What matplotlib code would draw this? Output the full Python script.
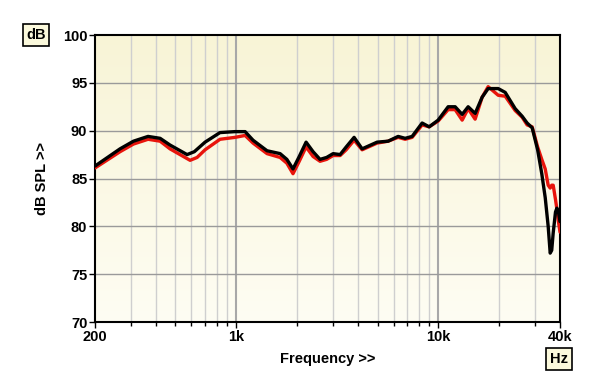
import numpy as np
import matplotlib
matplotlib.use("Agg")
import matplotlib.pyplot as plt
from matplotlib.ticker import FixedLocator, NullFormatter
from matplotlib.colors import LinearSegmentedColormap

plt.rcParams['font.family'] = ['Liberation Sans', 'DejaVu Sans']

freq_black = [200, 266, 310, 366, 420, 470, 571, 620, 701, 831, 986, 1106, 1211,
              1420, 1648, 1780, 1909, 2050, 2216, 2400, 2598, 2800, 3015, 3266,
              3500, 3830, 4196, 4977, 5643, 6325, 6852, 7421, 8315, 9006, 9977,
              11182, 12112, 13120, 14046, 15210, 16475, 17640, 19780, 21425,
              24005, 26000, 27500, 29130, 31000, 32500, 33800, 34960, 35770,
              36400, 37010, 38000, 38610, 39300, 40000]
spl_black = [86.3, 88.1, 88.9, 89.4, 89.2, 88.5, 87.5, 87.8, 88.8, 89.8, 89.9, 89.9, 89.0,
             87.9, 87.6, 87.0, 86.0, 87.3, 88.8, 87.8, 87.0, 87.2, 87.6, 87.5,
             88.3, 89.3, 88.1, 88.8, 88.9, 89.4, 89.2, 89.4, 90.8, 90.4, 91.1,
             92.5, 92.5, 91.7, 92.5, 91.8, 93.5, 94.4, 94.4, 94.0,
             92.3, 91.5, 90.8, 90.3, 88.0, 85.5, 83.0, 80.0, 77.2,
             77.5, 79.3, 81.5, 81.9, 81.5, 80.5]

freq_red = [200, 266, 310, 366, 420, 470, 591, 640, 701, 831, 986, 1106, 1211,
            1420, 1648, 1780, 1909, 2050, 2216, 2400, 2598, 2800, 3015, 3266,
            3500, 3830, 4196, 4977, 5643, 6325, 6852, 7421, 8315, 9006, 9977,
            11182, 12112, 13120, 14046, 15210, 16475, 17640, 19780, 21425,
            24005, 26000, 27500, 29130, 31000, 32500, 33800, 34960, 35770,
            36400, 37010, 38000, 38610, 39300, 40000]
spl_red = [86.1, 87.8, 88.6, 89.1, 88.9, 88.1, 86.9, 87.2, 88.0, 89.1, 89.3, 89.5, 88.7,
           87.6, 87.2, 86.6, 85.5, 86.8, 88.3, 87.3, 86.8, 87.0, 87.4, 87.4,
           88.0, 89.0, 88.0, 88.7, 88.9, 89.3, 89.1, 89.3, 90.6, 90.4, 91.0,
           92.2, 92.2, 91.1, 92.3, 91.2, 93.5, 94.6, 93.7, 93.6,
           92.1, 91.4, 90.6, 90.4, 88.3, 87.0, 86.0, 84.3, 84.0,
           84.3, 84.3, 82.8, 81.8, 80.5, 79.4]

x_major = [200, 1000, 10000, 40000]
x_major_labels = ["200", "1k", "10k", "40k"]
x_minor = [300, 400, 500, 600, 700, 800, 900,
           2000, 3000, 4000, 5000, 6000, 7000, 8000, 9000,
           20000, 30000]
y_ticks = [70, 75, 80, 85, 90, 95, 100]

fig = plt.figure(figsize=(6.0, 3.89), dpi=100)
ax = fig.add_axes([95/600, 67/389, 465/600, 287/389])
ax.set_xscale('log')
ax.set_xlim(200, 40000)
ax.set_ylim(70, 100)

# background gradient
cmap = LinearSegmentedColormap.from_list('bg', ['#fefdf3', '#f8f4d6'])
grad = np.linspace(0, 1, 256).reshape(-1, 1)
ax.imshow(grad, aspect='auto', cmap=cmap, origin='lower',
          extent=[200, 40000, 70, 100], zorder=0)

for f in x_minor:
    ax.axvline(f, color='#cfcfcf', lw=1.0, zorder=1)
for f in [1000, 10000]:
    ax.axvline(f, color='#a8a8a8', lw=1.5, zorder=1)
for y in y_ticks[1:-1]:
    ax.axhline(y, color='#9a9a9a', lw=1.0, zorder=1)

ax.plot(freq_red, spl_red, color='#e8140c', lw=2.4, zorder=3,
        solid_joinstyle='round', solid_capstyle='round')
ax.plot(freq_black, spl_black, color='#000000', lw=2.4, zorder=4,
        solid_joinstyle='round', solid_capstyle='round')

ax.xaxis.set_major_locator(FixedLocator(x_major))
ax.set_xticklabels(x_major_labels)
ax.xaxis.set_minor_locator(FixedLocator(x_minor))
ax.xaxis.set_minor_formatter(NullFormatter())
ax.set_yticks(y_ticks)
ax.set_yticklabels([str(v) for v in y_ticks])

ax.tick_params(axis='both', which='major', direction='out', length=4, width=1,
               labelsize=10.5, pad=1.5)
ax.tick_params(axis='x', which='minor', direction='out', length=3, width=1)
for lab in ax.get_xticklabels() + ax.get_yticklabels():
    lab.set_fontweight('bold')

for s in ax.spines.values():
    s.set_linewidth(1.5)
    s.set_color('black')

ax.set_xlabel('Frequency >>', fontsize=10.5, fontweight='bold', labelpad=6)
ax.set_ylabel('dB SPL >>', fontsize=10.5, fontweight='bold', labelpad=10)

fig.text(36/600, 1 - 35/389, 'dB', fontsize=10.5, fontweight='bold',
         ha='center', va='center',
         bbox=dict(boxstyle='square,pad=0.25', fc='#fbf9dc', ec='black', lw=1.2))
fig.text(559/600, 1 - 359/389, 'Hz', fontsize=10.5, fontweight='bold',
         ha='center', va='center',
         bbox=dict(boxstyle='square,pad=0.25', fc='#fbf9dc', ec='black', lw=1.2))

fig.savefig('out.png', dpi=100, facecolor='white')
